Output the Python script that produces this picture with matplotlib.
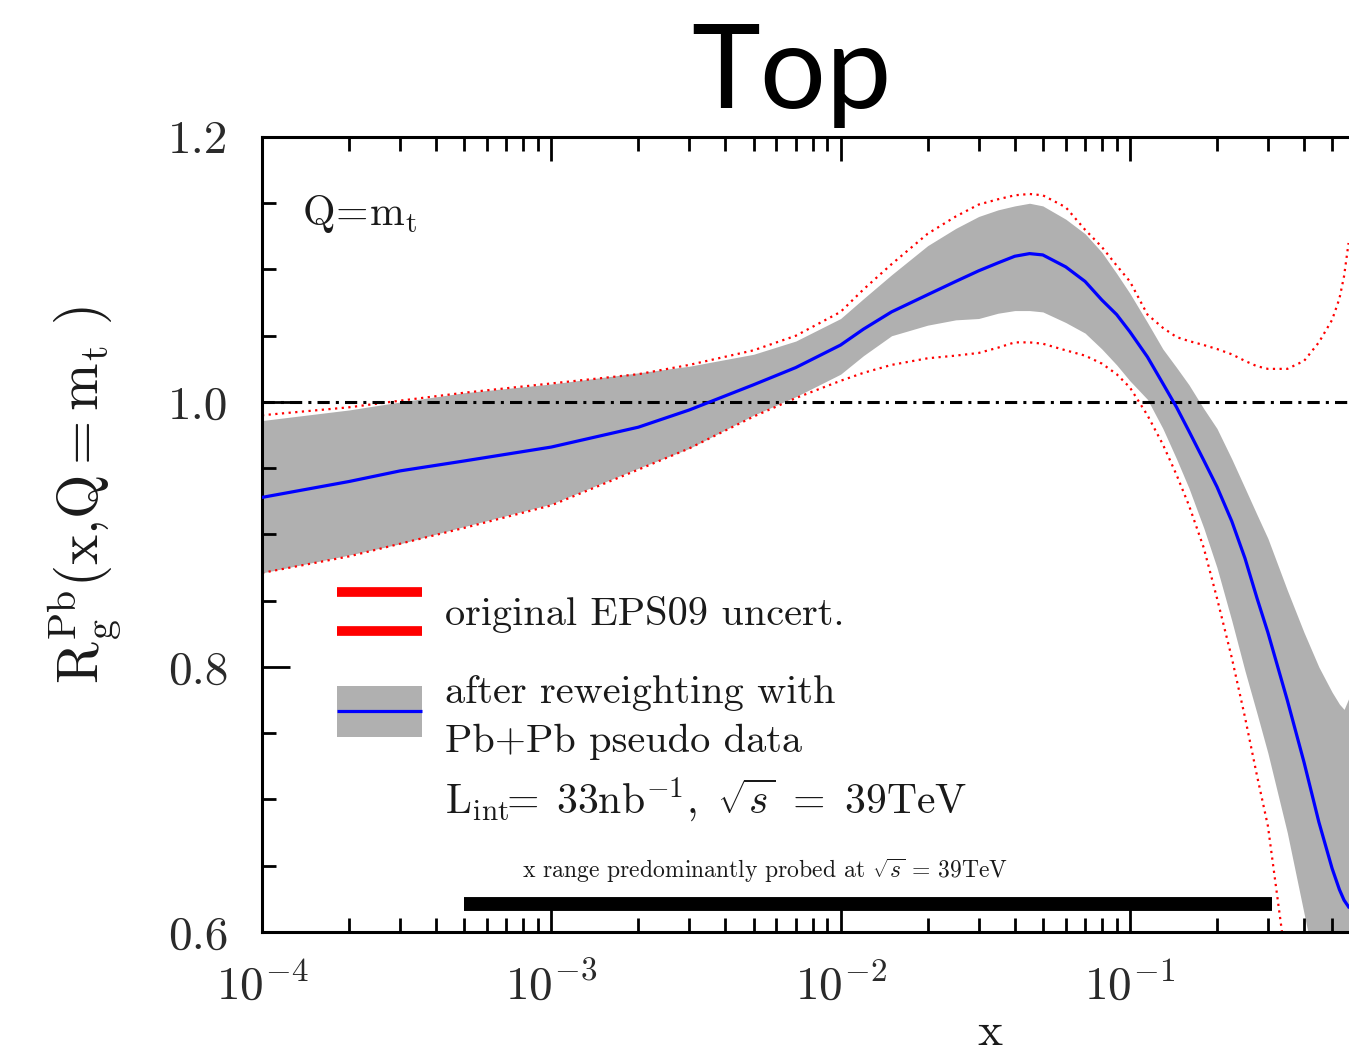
import numpy as np
import matplotlib
matplotlib.use("Agg")
import matplotlib.pyplot as plt
from matplotlib.ticker import FixedLocator, NullFormatter

plt.rcParams['mathtext.fontset'] = 'cm'
plt.rcParams['font.family'] = ['cmr10', 'DejaVu Serif']
plt.rcParams['axes.formatter.use_mathtext'] = True

# momentum fraction grid
x = [1e-4, 2e-4, 3e-4, 5e-4, 1e-3, 2e-3, 3e-3, 5e-3, 7e-3, 0.01, 0.012,
     0.015, 0.02, 0.025, 0.03, 0.035, 0.04, 0.045, 0.05, 0.06, 0.07, 0.08,
     0.09, 0.1, 0.115, 0.13, 0.145, 0.16, 0.18, 0.2, 0.225, 0.25, 0.275,
     0.3, 0.35, 0.4, 0.45, 0.5, 0.53, 0.55, 0.57]

# reweighted central value
central = [0.928, 0.940, 0.948, 0.9555, 0.966, 0.981, 0.994, 1.013, 1.026,
           1.043, 1.055, 1.068, 1.081, 1.091, 1.099, 1.105, 1.110, 1.112,
           1.111, 1.102, 1.091, 1.077, 1.066, 1.053, 1.034, 1.014, 0.996,
           0.978, 0.956, 0.936, 0.910, 0.882, 0.852, 0.826, 0.775, 0.728,
           0.683, 0.648, 0.632, 0.624, 0.619]

# reweighted uncertainty band
rw_upper = [0.986, 0.994, 1.000, 1.007, 1.0136, 1.022, 1.027, 1.036, 1.046,
            1.063, 1.078, 1.096, 1.118, 1.131, 1.140, 1.145, 1.148, 1.150,
            1.148, 1.138, 1.127, 1.113, 1.097, 1.082, 1.060, 1.040, 1.026,
            1.013, 0.995, 0.980, 0.957, 0.935, 0.915, 0.897, 0.858, 0.826,
            0.800, 0.781, 0.772, 0.768, 0.776]
rw_lower = [0.871, 0.8845, 0.893, 0.906, 0.923, 0.950, 0.965, 0.990, 1.004,
            1.021, 1.035, 1.050, 1.058, 1.062, 1.063, 1.067, 1.069, 1.069,
            1.068, 1.060, 1.052, 1.040, 1.028, 1.016, 1.002, 0.980, 0.957,
            0.935, 0.905, 0.875, 0.835, 0.797, 0.765, 0.735, 0.675, 0.614,
            0.56, 0.50, 0.47, 0.45, 0.43]

# original EPS09 uncertainty bounds
eps_upper = [0.990, 0.996, 1.001, 1.007, 1.014, 1.021, 1.028, 1.039, 1.050,
             1.068, 1.085, 1.104, 1.127, 1.140, 1.149, 1.153, 1.156, 1.157,
             1.156, 1.147, 1.130, 1.117, 1.103, 1.091, 1.066, 1.056, 1.049,
             1.046, 1.043, 1.040, 1.036, 1.031, 1.027, 1.025, 1.025, 1.031,
             1.045, 1.062, 1.078, 1.095, 1.120]
eps_lower = [0.871, 0.8835, 0.893, 0.905, 0.922, 0.949, 0.965, 0.989, 1.003,
             1.016, 1.022, 1.028, 1.033, 1.035, 1.037, 1.041, 1.045, 1.045,
             1.044, 1.039, 1.035, 1.029, 1.021, 1.011, 0.990, 0.968, 0.945,
             0.922, 0.890, 0.852, 0.807, 0.762, 0.718, 0.680, 0.570, 0.500,
             0.450, 0.400, 0.380, 0.360, 0.350]

# x range probed at sqrt(s) = 39 TeV
probe_range = [5e-4, 0.31]
probe_level = 0.621

x_ticks = [1e-4, 1e-3, 1e-2, 1e-1]
x_labels = [r'$10^{-4}$', r'$10^{-3}$', r'$10^{-2}$', r'$10^{-1}$']
y_ticks = [0.6, 0.8, 1.0, 1.2]
y_labels = ['0.6', '0.8', '1.0', '1.2']

W, H = 1349, 1052
fig = plt.figure(figsize=(W / 100, H / 100), dpi=100)
ax = fig.add_axes([262 / W, (H - 932) / H, (W - 262) / W, (932 - 137) / H])

ax.fill_between(x, rw_lower, rw_upper, color='#b0b0b0', lw=0, zorder=1)
ax.plot(x, eps_upper, color='red', lw=1.6, ls=(0, (1, 2.0)), zorder=2)
ax.plot(x, eps_lower, color='red', lw=1.6, ls=(0, (1, 2.0)), zorder=2)
ax.axhline(1.0, color='black', lw=2.2, ls=(0, (4, 2, 1, 2)), zorder=3)
ax.plot(x, central, color='blue', lw=2.3, zorder=4)
ax.hlines(probe_level, probe_range[0], probe_range[1], color='black', lw=10,
          zorder=5)

ax.set_xscale('log')
ax.set_xlim(1e-4, 0.572)
ax.set_ylim(0.6, 1.2)

ax.xaxis.set_major_locator(FixedLocator(x_ticks))
ax.set_xticklabels(x_labels)
minors = [m * 10.0 ** e for e in range(-4, 0) for m in range(2, 10)]
ax.xaxis.set_minor_locator(FixedLocator(minors))
ax.xaxis.set_minor_formatter(NullFormatter())
ax.set_yticks(y_ticks)
ax.set_yticklabels(y_labels)
ax.yaxis.set_minor_locator(FixedLocator(np.arange(0.65, 1.2, 0.05)))

ax.tick_params(which='both', direction='in', top=True, right=False,
               width=2.0, colors='black', labelcolor='#2a2a2a')
ax.tick_params(axis='x', which='major', length=17, pad=22, labelsize=34)
ax.tick_params(axis='x', which='minor', length=10)
ax.tick_params(axis='y', which='major', length=20, pad=24, labelsize=34)
ax.tick_params(axis='y', which='minor', length=10)
for side in ['left', 'bottom', 'top']:
    ax.spines[side].set_linewidth(2.2)
ax.spines['right'].set_visible(False)


def fx(px):
    return (px - 262) / (W - 262)


def fy(py):
    return (932 - py) / (932 - 137)


# legend samples
ax.plot([fx(337), fx(422)], [fy(592), fy(592)], transform=ax.transAxes,
        color='red', lw=7, solid_capstyle='butt')
ax.plot([fx(337), fx(422)], [fy(631), fy(631)], transform=ax.transAxes,
        color='red', lw=7, solid_capstyle='butt')
ax.add_patch(plt.Rectangle((fx(337), fy(737)), fx(422) - fx(337),
                           fy(686) - fy(737), transform=ax.transAxes,
                           color='#b0b0b0', lw=0))
ax.plot([fx(337), fx(422)], [fy(711), fy(711)], transform=ax.transAxes,
        color='blue', lw=2.3, solid_capstyle='butt')

tc = '#1a1a1a'
ax.text(fx(445), fy(625), 'original EPS09 uncert.', transform=ax.transAxes,
        fontsize=29, color=tc, va='baseline')
ax.text(fx(445), fy(703), 'after reweighting with', transform=ax.transAxes,
        fontsize=29, color=tc, va='baseline')
ax.text(fx(445), fy(752), 'Pb+Pb pseudo data', transform=ax.transAxes,
        fontsize=29, color=tc, va='baseline')
ax.text(fx(445), fy(813),
        r'$\mathrm{L_{int}\!\!=\;33nb^{-1}},\ \sqrt{s}\ =\ \mathrm{39TeV}$',
        transform=ax.transAxes, fontsize=30, color=tc, va='baseline')
ax.text(fx(522), fy(878),
        r'x range predominantly probed at $\sqrt{s}$ = 39TeV',
        transform=ax.transAxes, fontsize=17, color=tc, va='baseline')
ax.text(fx(302), fy(225), r'$\mathrm{Q\!=\!m_t}$', transform=ax.transAxes,
        fontsize=30, color=tc, va='baseline')

fig.text(85 / W, 1 - 495 / H, r'$\mathrm{R_g^{Pb}(x{,}Q{=}m_t\ )}$',
         rotation=90, ha='center', va='center', fontsize=41, color=tc)
fig.text(990 / W, 1 - 1045 / H, 'x', ha='center', va='baseline',
         fontsize=34, color=tc)
fig.text(791 / W, 1 - 108 / H, 'Top', ha='center', va='baseline',
         fontsize=84, family='Lato', color='black')

fig.savefig('out.png', dpi=100)
